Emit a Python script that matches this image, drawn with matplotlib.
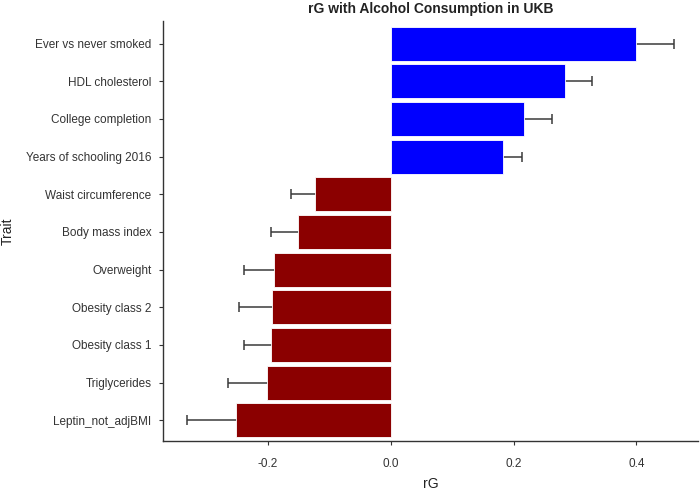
import matplotlib.pyplot as plt
import numpy as np

# rG estimates and standard errors
traits = ['Leptin_not_adjBMI', 'Triglycerides', 'Obesity class 1', 'Obesity class 2',
          'Overweight', 'Body mass index', 'Waist circumference',
          'Years of schooling 2016', 'College completion', 'HDL cholesterol',
          'Ever vs never smoked']
rg = [-0.252, -0.202, -0.196, -0.193, -0.191, -0.151, -0.124,
      0.183, 0.217, 0.283, 0.399]
se = [0.080, 0.063, 0.043, 0.054, 0.048, 0.045, 0.039,
      0.031, 0.046, 0.045, 0.062]

plt.rcParams['font.family'] = ['Liberation Sans', 'DejaVu Sans']

fig = plt.figure(figsize=(7, 4.9), dpi=100)
ax = fig.add_axes([0.2324, 0.1, 0.765, 0.857])

ypos = np.arange(1, len(traits) + 1)
colors = ['#0000FF' if v > 0 else '#8B0000' for v in rg]

# error bars sit behind the bars so only the outer half shows
ax.errorbar(rg, ypos, xerr=se, fmt='none', ecolor='#3a3a3a', elinewidth=1.1,
            capsize=3.8, capthick=1.1, zorder=1)
ax.barh(ypos, rg, height=0.9, color=colors, edgecolor='white', linewidth=0.6, zorder=2)

lo = min(r - s for r, s in zip(rg, se))
hi = max(r + s for r, s in zip(rg, se))
pad = (hi - lo) * 0.05
ax.set_xlim(lo - pad, hi + pad)
ax.set_ylim(0.45, len(traits) + 0.6)

ax.set_yticks(ypos)
ax.set_yticklabels(traits)
ax.set_xticks([-0.2, 0.0, 0.2, 0.4])
ax.set_xticklabels(['-0.2', '0.0', '0.2', '0.4'])

for side in ['top', 'right']:
    ax.spines[side].set_visible(False)
for side in ['left', 'bottom']:
    ax.spines[side].set_color('#333333')
    ax.spines[side].set_linewidth(1.0)
ax.tick_params(axis='both', length=3, width=0.8, color='#333333',
               labelsize=8.5, labelcolor='#333333', pad=5)
ax.tick_params(axis='x', pad=9)

ax.set_xlabel('rG', fontsize=10, color='#222222', labelpad=5)
ax.set_ylabel('Trait', fontsize=10, color='#222222', labelpad=8)
ax.set_title('rG with Alcohol Consumption in UKB', fontsize=10,
             fontweight='bold', color='#222222', pad=6)

fig.savefig('out.png', dpi=100)
